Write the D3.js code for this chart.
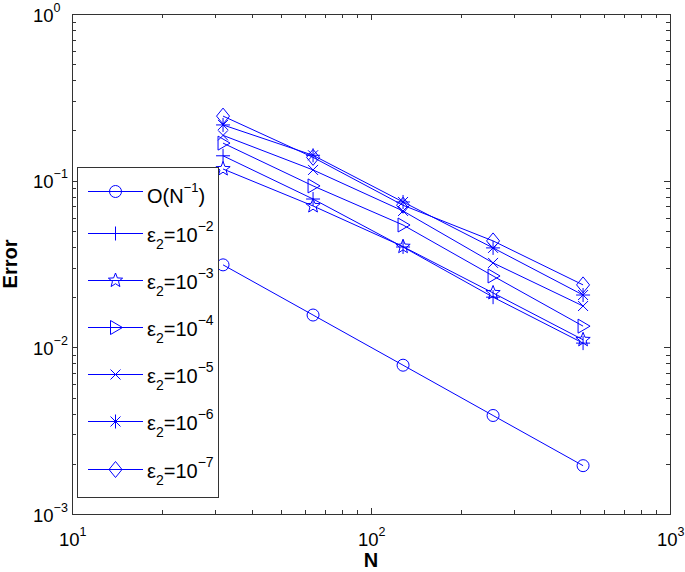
<html>
<head>
  <script src="https://cdn.jsdelivr.net/npm/d3@7"></script>
  <style>
    body { margin: 0; background: #fff; }
    text { font-family: "Liberation Sans", Arial, sans-serif; }
  </style>
</head>
<body>
<script>

var width = 685,
    height = 572;

var margin = {top: 14, right: 15, bottom: 58, left: 72};

// data
var N = [32, 64, 128, 256, 512];
var ref1 = [0.03125, 0.015625, 0.0078125, 0.0039, 0.00195];
var eps2 = [0.141, 0.0776, 0.0400, 0.0200, 0.0106];
var eps3 = [0.1175, 0.0705, 0.0402, 0.0212, 0.0111];
var eps4 = [0.168, 0.093, 0.0542, 0.0268, 0.0134];
var eps5 = [0.187, 0.116, 0.0658, 0.0321, 0.0177];
var eps6 = [0.216, 0.142, 0.0745, 0.0395, 0.0206];
var eps7 = [0.244, 0.138, 0.0712, 0.0435, 0.0237];

var seriesNames = ["ref", "-2", "-3", "-4", "-5", "-6", "-7"];
var seriesMarkers = ["circle", "plus", "star", "tri", "x", "ast", "diamond"];
var seriesVals = [ref1, eps2, eps3, eps4, eps5, eps6, eps7];

var xTicks = [10, 100, 1000];
var yTicks = [0.001, 0.01, 0.1, 1];

var blue = "#0000ff";

var svg = d3.select("body").append("svg")
    .attr("width", width)
    .attr("height", height);

var pw = width - margin.left - margin.right,
    ph = height - margin.top - margin.bottom;

var x = d3.scaleLog().domain([10, 1000]).range([margin.left, margin.left + pw]);
var y = d3.scaleLog().domain([0.001, 1]).range([margin.top + ph, margin.top]);

function markerPath(m) {
  if (m == "circle") return "M-6,0A6,6 0 1,0 6,0A6,6 0 1,0 -6,0Z";
  if (m == "plus") return "M0,-7V7M-7,0H7";
  if (m == "tri") return "M-5,-7L7,0L-5,7Z";
  if (m == "x") return "M-5,-5L5,5M-5,5L5,-5";
  if (m == "ast") return "M0,-7V7M-7,0H7M-5,-5L5,5M-5,5L5,-5";
  if (m == "diamond") return "M0,-8L6.5,0L0,8L-6.5,0Z";
  if (m == "star") {
    var p = [];
    for (var k = 0; k < 10; k++) {
      var r = k % 2 == 0 ? 7.5 : 3.2;
      var a = -Math.PI / 2 + k * Math.PI / 5;
      p.push((r * Math.cos(a)).toFixed(2) + "," + (r * Math.sin(a)).toFixed(2));
    }
    return "M" + p.join("L") + "Z";
  }
}

// frame
svg.append("rect")
  .attr("x", margin.left + 0.5).attr("y", margin.top + 0.5)
  .attr("width", pw).attr("height", ph)
  .attr("fill", "none").attr("stroke", "#333").attr("stroke-width", 1);

// ticks on all four sides
function minorList(lo, hi) {
  var out = [];
  for (var d = lo; d < hi; d *= 10)
    for (var m = 1; m < 10; m++) out.push(d * m);
  out.push(hi);
  return out;
}
var tk = svg.append("g").attr("stroke", "#333").attr("stroke-width", 1);
minorList(10, 1000).forEach(function(v) {
  var len = xTicks.indexOf(v) >= 0 ? 6 : 4;
  var xx = Math.round(x(v)) + 0.5;
  tk.append("line").attr("x1", xx).attr("x2", xx).attr("y1", margin.top + ph).attr("y2", margin.top + ph - len);
  tk.append("line").attr("x1", xx).attr("x2", xx).attr("y1", margin.top).attr("y2", margin.top + len);
});
minorList(0.001, 1).forEach(function(v) {
  var len = yTicks.indexOf(v) >= 0 ? 6 : 4;
  var yy = Math.round(y(v)) + 0.5;
  tk.append("line").attr("y1", yy).attr("y2", yy).attr("x1", margin.left).attr("x2", margin.left + len);
  tk.append("line").attr("y1", yy).attr("y2", yy).attr("x1", margin.left + pw).attr("x2", margin.left + pw - len);
});

// tick labels
xTicks.forEach(function(v) {
  var t = svg.append("text")
    .attr("x", x(v) - 13).attr("y", margin.top + ph + 32)
    .attr("font-size", 18.5);
  t.append("tspan").text("10");
  t.append("tspan").attr("dy", -10).attr("font-size", 12.5).text(Math.round(Math.log10(v)));
});
yTicks.forEach(function(v) {
  var e = Math.round(Math.log10(v));
  var t = svg.append("text")
    .attr("x", 33).attr("y", y(v) + 7.5)
    .attr("font-size", 18.5);
  t.append("tspan").text("10");
  t.append("tspan").attr("dy", -10).attr("font-size", 12.5).text(e == 0 ? "0" : "\u2212" + (-e));
});

// axis titles
svg.append("text")
  .attr("x", x(100)).attr("y", 567)
  .attr("text-anchor", "middle").attr("font-size", 20).attr("font-weight", "bold")
  .text("N");
svg.append("text")
  .attr("transform", "translate(17," + (margin.top + ph / 2) + ") rotate(-90)")
  .attr("text-anchor", "middle").attr("font-size", 20).attr("font-weight", "bold")
  .text("Error");

// series
var line = d3.line()
  .x(function(d, i) { return x(N[i]); })
  .y(function(d) { return y(d); });

seriesVals.forEach(function(vals, s) {
  svg.append("path")
    .attr("d", line(vals))
    .attr("fill", "none").attr("stroke", blue).attr("stroke-width", 1);
  svg.selectAll(".m" + s)
    .data(vals)
    .enter().append("path")
    .attr("class", "m" + s)
    .attr("transform", function(d, i) { return "translate(" + x(N[i]) + "," + y(d) + ")"; })
    .attr("d", markerPath(seriesMarkers[s]))
    .attr("fill", "none").attr("stroke", blue).attr("stroke-width", 1);
});

// legend
var lg = svg.append("g");
lg.append("rect")
  .attr("x", 77.5).attr("y", 167.5).attr("width", 141).attr("height", 330)
  .attr("fill", "#fff").attr("stroke", "#333").attr("stroke-width", 1);

seriesNames.forEach(function(nm, s) {
  var ly = s == 0 ? 190.5 : 232.5 + (s - 1) * 47.2;
  ly = Math.round(ly) + 0.5;
  lg.append("line")
    .attr("x1", 88).attr("x2", 143).attr("y1", ly).attr("y2", ly)
    .attr("stroke", blue).attr("stroke-width", 1);
  lg.append("path")
    .attr("transform", "translate(115.5," + ly + ")")
    .attr("d", markerPath(seriesMarkers[s]))
    .attr("fill", "none").attr("stroke", blue).attr("stroke-width", 1);
  var t = lg.append("text").attr("x", 147).attr("font-size", 20);
  if (nm == "ref") {
    t.attr("y", ly + 11);
    t.append("tspan").text("O(N");
    t.append("tspan").attr("dy", -11).attr("font-size", 13).text("\u22121");
    t.append("tspan").attr("dy", 11).text(")");
  } else {
    t.attr("y", ly + 8);
    t.append("tspan").text("\u03b5");
    t.append("tspan").attr("dy", 7).attr("font-size", 14).text("2");
    t.append("tspan").attr("dy", -7).text("=10");
    t.append("tspan").attr("dy", -11).attr("font-size", 14).text("\u2212" + nm.slice(1));
  }
});

</script>
</body>
</html>
